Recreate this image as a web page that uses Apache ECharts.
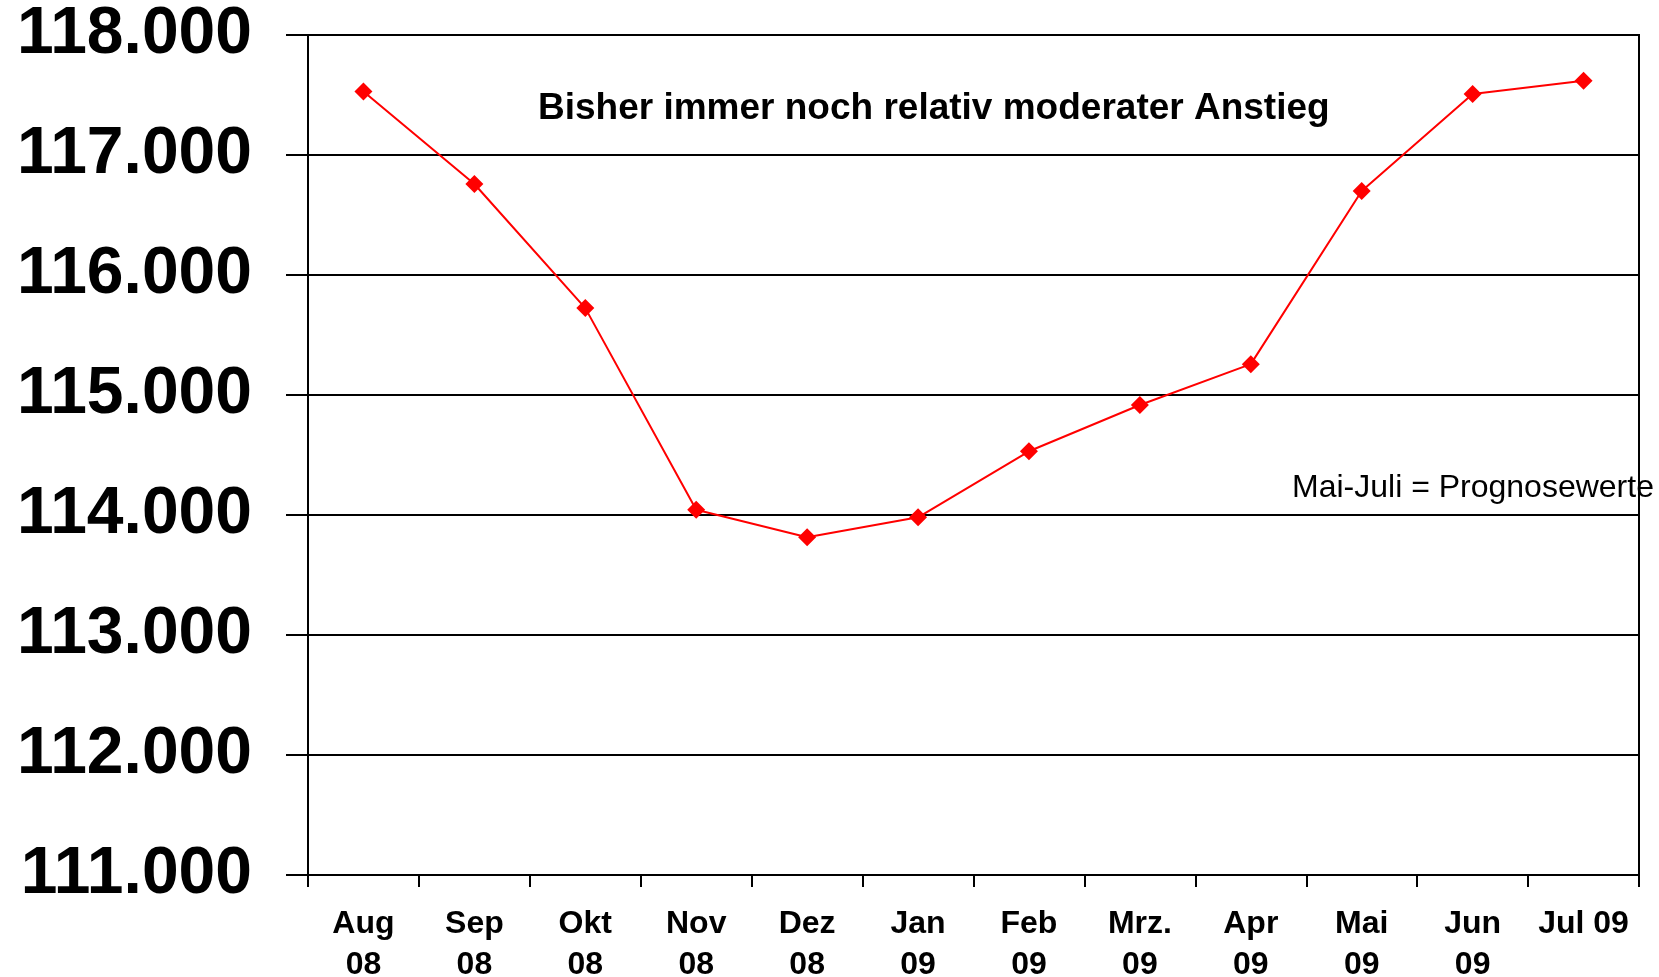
<!DOCTYPE html>
<html>
<head>
<meta charset="utf-8">
<title>Anstieg</title>
<script src="https://cdn.jsdelivr.net/npm/echarts@6/dist/echarts.min.js"></script>
<style>
    html, body { margin: 0; padding: 0; background: #fff; }
    #main { width: 1659px; height: 977px; }
</style>
</head>
<body>
<div id="main"></div>
<script>
// Monate (Kategorien)
let months = ['Aug\n08', 'Sep\n08', 'Okt\n08', 'Nov\n08', 'Dez\n08', 'Jan\n09',
    'Feb\n09', 'Mrz.\n09', 'Apr\n09', 'Mai\n09', 'Jun\n09', 'Jul 09'];
// Werte (Mai-Juli = Prognose)
let values = [117530, 116758, 115724, 114043, 113815, 113981,
    114531, 114917, 115257, 116700, 117508, 117619];
// Achse
let yMin = 111000;
let yMax = 118000;
let yStep = 1000;

let titleText = 'Bisher immer noch relativ moderater Anstieg';
let noteText = 'Mai-Juli = Prognosewerte';

/**
 * 118000 -> 118.000
 */
function formatNumber(v) {
    return String(Math.round(v)).replace(/\B(?=(\d{3})+(?!\d))/g, '.');
}

let myChart = echarts.init(document.getElementById('main'));
let option = {
    backgroundColor: '#fff',
    animation: false,
    textStyle: {
        fontFamily: '"Liberation Sans", Arial, sans-serif'
    },
    grid: {
        left: 308,
        right: 20,
        top: 35,
        bottom: 102,
        outerBoundsMode: 'none',
        containLabel: false,
        show: true,
        borderColor: '#000',
        borderWidth: 2
    },
    xAxis: {
        type: 'category',
        data: months,
        boundaryGap: true,
        axisLine: {lineStyle: {color: '#000', width: 2}},
        axisTick: {show: true, length: 12, lineStyle: {color: '#000', width: 2}},
        axisLabel: {
            color: '#000',
            fontSize: 32,
            fontWeight: 'bold',
            lineHeight: 41,
            margin: 29,
            interval: 0
        },
        splitLine: {show: false}
    },
    yAxis: {
        type: 'value',
        min: yMin,
        max: yMax,
        interval: yStep,
        axisLine: {show: true, lineStyle: {color: '#000', width: 2}},
        axisTick: {show: true, length: 22, lineStyle: {color: '#000', width: 2}},
        axisLabel: {
            color: '#000',
            fontSize: 66,
            fontWeight: 'bold',
            margin: 56,
            formatter: formatNumber
        },
        splitLine: {show: true, lineStyle: {color: '#000', width: 2}}
    },
    graphic: [
        {
            type: 'text',
            left: 538,
            top: 90,
            style: {
                text: titleText,
                fill: '#000',
                font: 'bold 37px "Liberation Sans", Arial, sans-serif'
            }
        },
        {
            type: 'text',
            left: 1292,
            top: 472,
            style: {
                text: noteText,
                fill: '#000',
                font: '32px "Liberation Sans", Arial, sans-serif'
            }
        }
    ],
    series: [
        {
            type: 'line',
            data: values,
            symbol: 'diamond',
            symbolSize: 18,
            itemStyle: {color: '#ff0000'},
            lineStyle: {color: '#ff0000', width: 2}
        }
    ]
};
myChart.setOption(option);
</script>
</body>
</html>
